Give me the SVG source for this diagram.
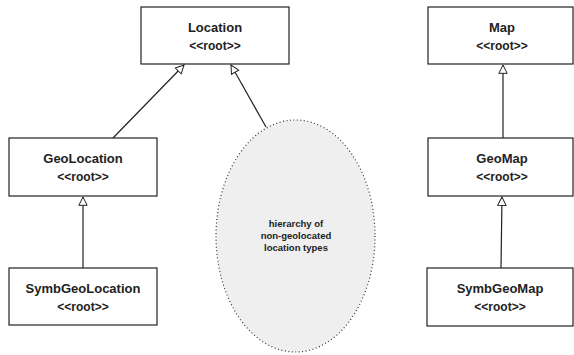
<svg xmlns="http://www.w3.org/2000/svg" width="574" height="355" viewBox="0 0 574 355">
<style>
.box{fill:#fff;stroke:#222;stroke-width:1.2}
.t{font-family:"Liberation Sans",Arial,sans-serif;font-weight:bold;font-size:13px;fill:#222;text-anchor:middle}
.s{font-family:"Liberation Sans",Arial,sans-serif;font-weight:bold;font-size:12px;fill:#222;text-anchor:middle}
.e{font-family:"Liberation Sans",Arial,sans-serif;font-weight:bold;font-size:9.5px;fill:#222;text-anchor:middle}
.c{stroke:#222;stroke-width:1.2;fill:none;marker-end:url(#tri)}
</style>
<defs>
<marker id="tri" viewBox="0 0 12 12" refX="11" refY="6" markerWidth="10" markerHeight="10" markerUnits="userSpaceOnUse" orient="auto">
<path d="M1,1 L11,6 L1,11 Z" fill="#fff" stroke="#222" stroke-width="1.2"/>
</marker>
</defs>
<g id="connectors">
<line class="c" x1="113" y1="138" x2="184" y2="65"/>
<line class="c" x1="266" y1="127" x2="231" y2="65"/>
<line class="c" x1="83" y1="268" x2="83" y2="197"/>
<line class="c" x1="503" y1="138" x2="503" y2="65"/>
<line class="c" x1="501" y1="268" x2="502" y2="197"/>
</g>
<g id="Location">
<rect class="box" x="141" y="7" width="148" height="57"/>
<text class="t" x="215" y="32">Location</text>
<text class="s" x="215" y="50">&lt;&lt;root&gt;&gt;</text>
</g>
<g id="GeoLocation">
<rect class="box" x="9" y="138" width="148" height="58"/>
<text class="t" x="83" y="163">GeoLocation</text>
<text class="s" x="83" y="181">&lt;&lt;root&gt;&gt;</text>
</g>
<g id="SymbGeoLocation">
<rect class="box" x="9" y="268" width="148" height="57"/>
<text class="t" x="83" y="293">SymbGeoLocation</text>
<text class="s" x="83" y="311">&lt;&lt;root&gt;&gt;</text>
</g>
<g id="hierarchy">
<ellipse cx="295.5" cy="236" rx="79.5" ry="116" fill="#efefef" stroke="#333" stroke-width="1.2" stroke-dasharray="1,2.5"/>
<text class="e" x="296" y="227">hierarchy of</text>
<text class="e" x="296" y="239">non-geolocated</text>
<text class="e" x="296" y="251">location types</text>
</g>
<g id="Map">
<rect class="box" x="428" y="7" width="145" height="57"/>
<text class="t" x="502" y="32">Map</text>
<text class="s" x="502" y="50">&lt;&lt;root&gt;&gt;</text>
</g>
<g id="GeoMap">
<rect class="box" x="428" y="138" width="145" height="58"/>
<text class="t" x="502" y="163">GeoMap</text>
<text class="s" x="502" y="181">&lt;&lt;root&gt;&gt;</text>
</g>
<g id="SymbGeoMap">
<rect class="box" x="427" y="268" width="146" height="58"/>
<text class="t" x="500" y="293">SymbGeoMap</text>
<text class="s" x="500" y="311">&lt;&lt;root&gt;&gt;</text>
</g>
</svg>
